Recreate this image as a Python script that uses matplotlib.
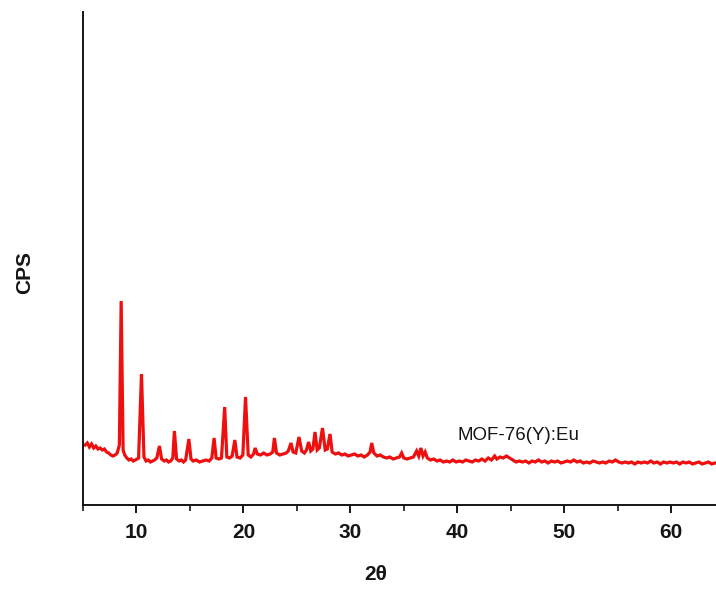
import matplotlib
matplotlib.use("Agg")
import matplotlib.pyplot as plt
from matplotlib.ticker import MultipleLocator, NullLocator

# Diffraction angle (2θ, degrees) and intensity (CPS, arbitrary units)
two_theta = [
    5.2, 5.4, 5.6, 5.8, 6.0, 6.2, 6.4, 6.6, 6.8, 7.0, 7.2, 7.4, 7.6, 7.8, 8.0, 8.2, 8.4, 8.57, 8.75, 8.9,
    9.1, 9.3, 9.5, 9.7, 9.9, 10.2, 10.47, 10.7, 10.9, 11.1, 11.3, 11.5, 11.7, 11.9, 12.15, 12.35, 12.6,
    12.8, 13.0, 13.2, 13.4, 13.55, 13.75, 14.0, 14.2, 14.4, 14.6, 14.9, 15.1, 15.3, 15.6, 15.9, 16.2,
    16.5, 16.8, 17.05, 17.26, 17.45, 17.7, 17.95, 18.25, 18.45, 18.7, 18.95, 19.2, 19.4, 19.7, 19.95,
    20.2, 20.45, 20.7, 20.95, 21.1, 21.3, 21.6, 21.9, 22.2, 22.5, 22.75, 22.9, 23.1, 23.4, 23.7, 24.0,
    24.2, 24.45, 24.65, 24.9, 25.2, 25.45, 25.7, 25.9, 26.1, 26.3, 26.5, 26.7, 26.9, 27.1, 27.4, 27.65,
    27.85, 28.1, 28.3, 28.6, 28.9, 29.2, 29.5, 29.8, 30.1, 30.4, 30.7, 31.0, 31.3, 31.6, 31.85, 32.0,
    32.2, 32.5, 32.8, 33.1, 33.4, 33.7, 34.0, 34.3, 34.6, 34.8, 35.0, 35.3, 35.6, 35.9, 36.2, 36.4,
    36.6, 36.8, 37.0, 37.2, 37.5, 37.8, 38.1, 38.4, 38.7, 39.0, 39.3, 39.6, 39.9, 40.2, 40.5, 40.8,
    41.1, 41.4, 41.7, 42.0, 42.3, 42.6, 42.9, 43.2, 43.5, 43.7, 44.0, 44.3, 44.6, 44.9, 45.2, 45.5,
    45.8, 46.1, 46.4, 46.7, 47.0, 47.3, 47.6, 47.9, 48.2, 48.5, 48.8, 49.1, 49.4, 49.7, 50.0, 50.3,
    50.6, 50.9, 51.2, 51.5, 51.8, 52.1, 52.4, 52.7, 53.0, 53.3, 53.6, 53.9, 54.2, 54.5, 54.8, 55.1,
    55.4, 55.7, 56.0, 56.3, 56.6, 56.9, 57.2, 57.5, 57.8, 58.1, 58.4, 58.7, 59.0, 59.3, 59.6, 59.9,
    60.2, 60.5, 60.8, 61.1, 61.4, 61.7, 62.0, 62.3, 62.6, 62.9, 63.2, 63.5, 63.8, 64.1, 64.4,
]
cps = [
    60, 62, 58, 61, 57, 59, 56, 57, 55, 56, 53, 52, 50, 49, 50, 52, 60, 204, 55, 50,
    47, 45, 46, 44, 45, 47, 131, 48, 44, 45, 43, 44, 45, 47, 59, 46, 44,
    45, 43, 44, 47, 74, 46, 44, 45, 43, 45, 66, 46, 44, 45, 43, 44,
    45, 44, 47, 67, 47, 46, 47, 98, 48, 47, 49, 65, 48, 47, 50,
    108, 50, 48, 51, 57, 51, 50, 52, 50, 51, 53, 67, 52, 50, 51, 52,
    54, 62, 53, 52, 68, 54, 52, 55, 63, 54, 56, 73, 55, 57, 77, 55,
    56, 71, 53, 51, 52, 50, 51, 49, 50, 51, 49, 50, 48, 50, 53, 62,
    52, 49, 50, 48, 47, 48, 46, 47, 48, 52, 47, 46, 47, 48, 54, 49,
    57, 49, 53, 47, 45, 46, 44, 45, 43, 44, 43, 45, 43, 44, 43, 45,
    44, 43, 45, 44, 46, 44, 47, 45, 49, 46, 48, 47, 49, 47, 45, 43,
    44, 43, 44, 42, 44, 43, 45, 43, 44, 42, 44, 43, 44, 42, 43, 44,
    43, 45, 43, 44, 42, 43, 42, 44, 43, 42, 43, 42, 44, 43, 45, 43,
    42, 43, 42, 43, 41, 43, 42, 43, 42, 44, 42, 43, 41, 43, 42, 43,
    42, 43, 41, 43, 42, 43, 41, 42, 43, 41, 42, 43, 41, 42, 42,
]
x_major_ticks = [10, 20, 30, 40, 50, 60]
x_tick_labels = ["10", "20", "30", "40", "50", "60"]
sample_label = "MOF-76(Y):Eu"

FONT = ["Liberation Sans", "DejaVu Sans"]
INK = "#151515"

fig = plt.figure(figsize=(7.16, 5.92), dpi=100)
ax = fig.add_axes([83 / 716, 1 - 505 / 592, 1 - 83 / 716, (505 - 12) / 592])

ax.plot(two_theta, cps, color="#ee0f0f", linewidth=2.3, solid_joinstyle="miter")

ax.set_xlim(5, 64.2)
ax.set_ylim(0, 493)

for side in ("top", "right"):
    ax.spines[side].set_visible(False)
for side in ("left", "bottom"):
    ax.spines[side].set_linewidth(1.4)
    ax.spines[side].set_color(INK)

ax.set_xticks(x_major_ticks)
ax.set_xticklabels(x_tick_labels, fontfamily=FONT, fontweight="bold", fontsize=15, color=INK)
ax.xaxis.set_minor_locator(MultipleLocator(10, offset=5))
ax.tick_params(axis="x", which="major", direction="out", length=6, width=1.4, pad=7, colors=INK)
ax.tick_params(axis="x", which="minor", direction="out", length=4, width=1.2, colors=INK)
ax.yaxis.set_major_locator(NullLocator())

ax.text(40.0, 69, sample_label, fontfamily=FONT, fontsize=13.5, color=INK,
        ha="left", va="center")

fig.text(376 / 716, 1 - 574 / 592, "2θ", fontfamily=FONT, fontweight="bold", fontsize=15,
         color=INK, ha="center", va="center")
fig.text(24.5 / 716, 1 - 272 / 592, "CPS", fontfamily=FONT, fontweight="bold", fontsize=15,
         color=INK, ha="center", va="center", rotation=90)

fig.savefig("out.png", dpi=100)
